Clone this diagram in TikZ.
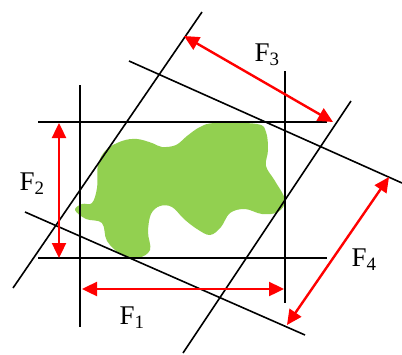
\documentclass[tikz,border=0pt]{standalone}
\usepackage{fontspec}
\setmainfont{Liberation Serif}
\usetikzlibrary{arrows.meta}

\definecolor{blobgreen}{HTML}{92D050}

\begin{document}
\begin{tikzpicture}[x=1pt,y=-1pt,
    edge/.style={line width=1.6pt,black},
    dim/.style={line width=2.4pt,red,{Triangle[length=15pt,width=14pt]}-{Triangle[length=15pt,width=14pt]}},
    lbl/.style={font=\fontsize{27}{32}\selectfont,inner sep=0pt}]
        \useasboundingbox (0,0) rectangle (402,354);
        % Draw region
        \fill[blobgreen] plot[smooth cycle,tension=0.6] coordinates {
            (75,210) (82,204) (92,203) (97,188) (98,165) (106,150) (122,141)
            (137,139) (152,143) (162,147) (176,145) (187,136) (200,127)
            (215,123) (257,124) (266,132) (268,150) (266,166) (275,181)
            (285,200) (278,212) (262,214) (245,209) (230,213) (221,227)
            (210,235) (197,229) (184,219) (172,207) (160,206) (151,214)
            (148,232) (150,250) (138,258) (122,255) (107,241) (102,223)
            (86,219)};
        % Draw axis-parallel box
        \draw[edge] (80,85) -- (80,327);
        \draw[edge] (285,71) -- (285,303);
        \draw[edge] (38,122) -- (327,122);
        \draw[edge] (38,258) -- (327,258);
        % Draw rotated box
        \draw[edge] (13,288) -- (202,12);
        \draw[edge] (183,353) -- (351,101);
        \draw[edge] (129,61) -- (402,183);
        \draw[edge] (25,212) -- (305,335);
        % Draw widths
        \coordinate (f1a) at (82,289);
        \coordinate (f1b) at (284,289);
        \coordinate (f2a) at (59,123);
        \coordinate (f2b) at (59,258);
        \coordinate (f3a) at (184,36);
        \coordinate (f3b) at (333,122);
        \coordinate (f4a) at (389,177);
        \coordinate (f4b) at (287,325);
        \draw[dim] (f1a) -- (f1b);
        \draw[dim] (f2a) -- (f2b);
        \draw[dim] (f3a) -- (f3b);
        \draw[dim] (f4a) -- (f4b);
        % Add labels
        \node[lbl] (F1) at (132,318) {F\textsubscript{1}};
        \node[lbl] (F2) at (32,184) {F\textsubscript{2}};
        \node[lbl] (F3) at (267,55) {F\textsubscript{3}};
        \node[lbl] (F4) at (364,260) {F\textsubscript{4}};
    \end{tikzpicture}
\end{document}
